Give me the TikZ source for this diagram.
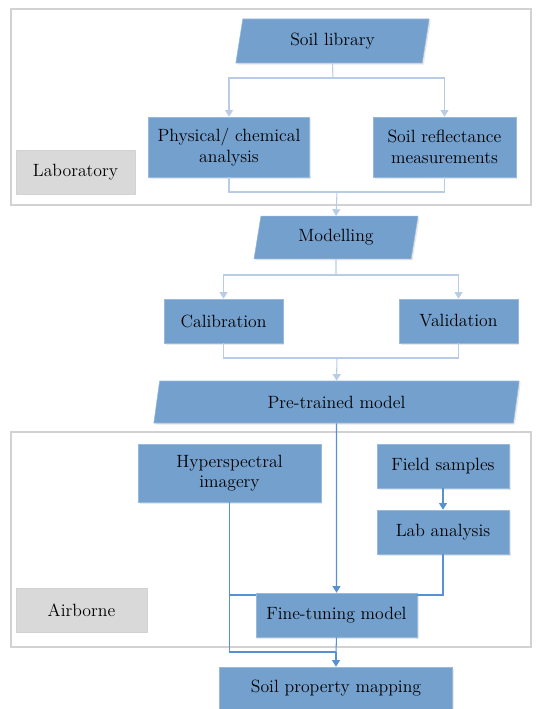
\documentclass[tikz,border=0pt]{standalone}
\usetikzlibrary{shapes.geometric,arrows.meta,shadows,calc}

\definecolor{boxblue}{RGB}{116,160,205}
\definecolor{boxedge}{RGB}{150,185,220}
\definecolor{paleline}{RGB}{184,204,232}
\definecolor{deepline}{RGB}{86,145,210}
\definecolor{tagfill}{RGB}{217,217,217}
\definecolor{frameline}{RGB}{210,210,210}

\tikzset{
  stage/.style={rectangle, draw=boxedge, fill=boxblue, align=center, inner sep=2pt,
    drop shadow={opacity=0.18, shadow xshift=1.2pt, shadow yshift=-1.2pt}},
  datain/.style={trapezium, trapezium left angle=72, trapezium right angle=108,
    trapezium stretches body, draw=boxedge, fill=boxblue, align=center, inner sep=2pt,
    drop shadow={opacity=0.18, shadow xshift=1.2pt, shadow yshift=-1.2pt}},
  tag/.style={rectangle, draw=frameline, fill=tagfill, align=center,
    drop shadow={opacity=0.15, shadow xshift=1pt, shadow yshift=-1pt}},
  frame/.style={draw=frameline, line width=0.8pt},
  paleflow/.style={draw=paleline, line width=0.8pt},
  palearrow/.style={paleflow, -{Triangle[length=5pt,width=6pt]}},
  deepflow/.style={draw=deepline, line width=0.8pt},
  deeparrow/.style={deepflow, -{Triangle[length=5pt,width=6pt]}},
}

\begin{document}
\begin{tikzpicture}[x=0.75pt, y=-0.75pt, font=\fontsize{13.3}{15.5}\selectfont]
  \useasboundingbox (0,0) rectangle (535,709);

  % Rahmen Labor / Flugzeug
  \draw[frame] (11,9) rectangle (531,205);
  \draw[frame] (11,432) rectangle (531,647);

  % Beschriftung der Bereiche
  \node[tag, minimum width=89pt, minimum height=33pt] (labtag) at (75.5,172) {Laboratory};
  \node[tag, minimum width=98pt, minimum height=33pt] (airtag) at (81.5,610) {Airborne};

  % Laborteil
  \node[datain, minimum width=145pt, minimum height=33pt] (soillib) at (332.5,41) {Soil library};
  \node[stage, minimum width=121pt, minimum height=45pt] (physchem) at (229,147) {Physical/ chemical\\analysis};
  \node[stage, minimum width=107pt, minimum height=45pt] (reflect) at (444.5,147) {Soil reflectance\\measurements};

  % Modellierung
  \node[datain, minimum width=123pt, minimum height=32pt] (modelling) at (336,237.5) {Modelling};
  \node[stage, minimum width=89pt, minimum height=33pt] (calib) at (223.5,321) {Calibration};
  \node[stage, minimum width=89pt, minimum height=33pt] (valid) at (458.5,321) {Validation};
  \node[datain, minimum width=274pt, minimum height=31.5pt] (pretrain) at (336.5,402) {Pre-trained model};

  % Flugzeugteil
  \node[stage, minimum width=137pt, minimum height=43.5pt] (hyper) at (229.5,473) {Hyperspectral\\imagery};
  \node[stage, minimum width=99pt, minimum height=33pt] (field) at (443,466) {Field samples};
  \node[stage, minimum width=99pt, minimum height=33pt] (labana) at (443,532) {Lab analysis};
  \node[stage, minimum width=121pt, minimum height=33pt] (finetune) at (336.5,615) {Fine-tuning model};
  \node[stage, minimum width=175pt, minimum height=31.5pt] (mapping) at (336,688) {Soil property mapping};

  % Verzweigungspunkte
  \coordinate (split1) at (333,78);
  \coordinate (join1)  at (337,192);
  \coordinate (split2) at (336,275);
  \coordinate (join2)  at (337,358);
  \coordinate (hyjoin) at (229.5,595);
  \coordinate (mapjoin) at (336,652);

  % Verbindungen oben
  \draw[paleflow] (soillib.south) -- (split1);
  \draw[palearrow] (split1) -| (physchem.north);
  \draw[palearrow] (split1) -| (reflect.north);
  \draw[paleflow] (physchem.south) |- (join1);
  \draw[paleflow] (reflect.south) |- (join1);
  \draw[palearrow] (join1) -- (modelling.north);
  \draw[paleflow] (modelling.south) -- (split2);
  \draw[palearrow] (split2) -| (calib.north);
  \draw[palearrow] (split2) -| (valid.north);
  \draw[paleflow] (calib.south) |- (join2);
  \draw[paleflow] (valid.south) |- (join2);
  \draw[palearrow] (join2) -- (pretrain.north);

  % Verbindungen unten
  \draw[deeparrow] (pretrain.south) -- (finetune.north);
  \draw[deeparrow] (field.south) -- (labana.north);
  \draw[deepflow] (labana.south) |- (hyjoin -| finetune.east);
  \draw[deepflow] (hyper.south) |- (mapjoin);
  \draw[deepflow] (hyjoin) -- (hyjoin -| finetune.west);
  \draw[deepflow] (finetune.south) -- (mapjoin);
  \draw[deeparrow] (mapjoin) -- (mapping.north);
\end{tikzpicture}
\end{document}
